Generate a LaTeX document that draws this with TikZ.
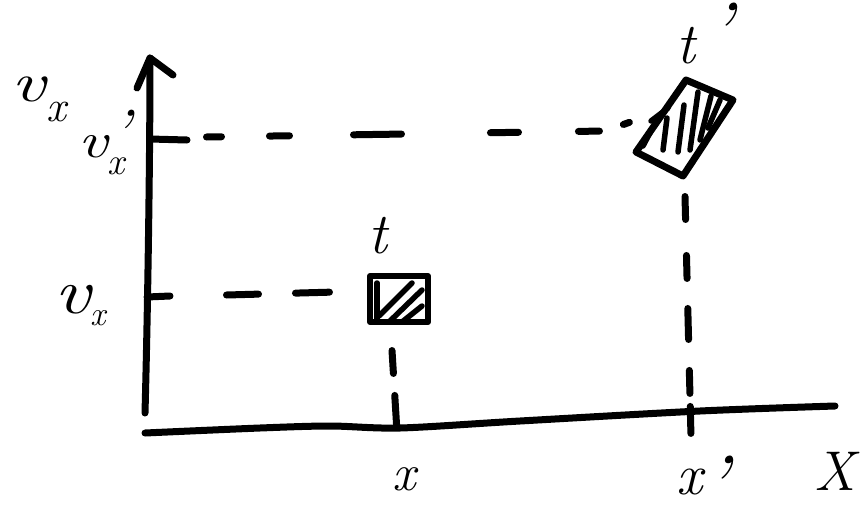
\documentclass[tikz,border=0pt]{standalone}
\usepackage{fontspec}
\newcommand{\pr}[2]{\raisebox{#2}{\fontsize{#1}{#1}\selectfont\itshape '}}
\newcommand{\wv}[2]{{\fontsize{#1}{#1}\selectfont\itshape\scalebox{#2}[1]{v}}}
\newcommand{\sx}[2]{\raisebox{-#2}{\fontsize{#1}{#1}\selectfont\itshape x}}
\begin{document}
\tikzset{
  ink/.style={line width=7pt, line cap=round, line join=round, draw=black},
  hatch/.style={line width=5.5pt, line cap=round, draw=black},
  lbl/.style={inner sep=0pt, outer sep=0pt, text=black, anchor=base west},
  boxstyle/.style={ink, line width=6pt, minimum width=58pt, minimum height=46pt, inner sep=0pt},
}
\begin{tikzpicture}[x=1pt,y=-1pt]
\useasboundingbox (0,0) rectangle (864,506);

% ---------- axes ----------
\coordinate (ybot) at (145,413);
\coordinate (ytop) at (150,58);
\coordinate (yarrL) at (137,88);
\coordinate (yarrR) at (173,75);
\draw[ink] (ybot) .. controls (148,300) and (150,150) .. (ytop);
\draw[ink] (yarrL) -- (ytop) -- (yarrR);
\draw[ink] plot[smooth] coordinates {(145,433) (260,428) (330,426) (400,428) (520,421) (700,411) (835,406)};

% ---------- ticks on the v axis ----------
\coordinate (tkA) at (150,139);
\coordinate (tkAe) at (187,140);
\coordinate (tkB) at (147,297);
\coordinate (tkBe) at (170,296);
\draw[ink] (tkA) -- (tkAe);
\draw[ink] (tkB) -- (tkBe);

% ---------- event t ----------
\node[boxstyle] (tb) at (399,299) {};
\draw[hatch] (377,283) -- (377,319);
\draw[hatch] (379,316) -- (412,283);
\draw[hatch] (390,321) -- (422,290);
\draw[hatch] (402,322) -- (422,306);

% ---------- event t' ----------
\coordinate (pA) at (686,80);
\coordinate (pB) at (733,100);
\coordinate (pC) at (683,176);
\coordinate (pD) at (636,152);
\draw[ink] (pA) -- (pB) -- (pC) -- (pD) -- cycle;
\draw[hatch] (668,108) -- (651,121);
\draw[hatch] (653,127) -- (643,146);
\draw[hatch] (667,118) -- (663,150);
\draw[hatch] (678,152) -- (684,105);
\draw[hatch] (690,150) -- (698,92);
\draw[hatch] (700,140) -- (711,96);
\draw[hatch] (708,128) -- (720,100);

% ---------- dashed projections ----------
\coordinate (dAs) at (206.5,137);
\coordinate (dAm) at (605,131);
\coordinate (dAe) at (636,120);
\draw[ink, dash pattern=on 15pt off 48pt on 20pt off 64pt on 48pt off 89pt on 28pt off 60pt on 21pt off 25pt on 6.4pt off 200pt]
  (dAs) -- (dAm) -- (dAe);

\coordinate (dBs) at (226.5,295);
\coordinate (dBe) at (336,292);
\draw[ink, dash pattern=on 32pt off 37pt on 34pt off 200pt] (dBs) -- (dBe);

\coordinate (dCs) at (392,350.5);
\coordinate (dCe) at (397,432);
\draw[ink, dash pattern=on 23pt off 22pt on 31pt off 200pt] (dCs) -- (dCe);

\coordinate (dDs) at (685,196.5);
\coordinate (dDe) at (691,437);
\draw[ink, dash pattern=on 23pt off 36pt on 23pt off 30pt on 31pt off 31pt on 23pt off 13pt on 27pt off 200pt] (dDs) -- (dDe);

% ---------- labels ----------
\node[lbl] (lvx) at (12,101) {\wv{56}{1.35}\sx{44}{20pt}};
\node[lbl] (lvxp) at (78,157) {\fontsize{50}{50}\selectfont\wv{50}{1.3}\sx{38}{17pt}\hspace{-13pt}\pr{64}{3pt}};
\node[lbl] (lvx2) at (54,313) {\wv{64}{1.25}\sx{34}{12pt}};
\node[lbl] (lt) at (368,253) {\fontsize{58}{58}\selectfont\itshape t};
\node[lbl] (ltp) at (676,63) {\fontsize{58}{58}\selectfont\itshape t\hspace{14pt}\pr{80}{5pt}};
\node[lbl] (lx) at (392,490) {\fontsize{52}{52}\selectfont\itshape x};
\node[lbl] (lxp) at (676,494) {\fontsize{58}{58}\selectfont\itshape x\hspace{2pt}\pr{80}{-17pt}};
\node[lbl] (lX) at (814,490) {\fontsize{56}{56}\selectfont\itshape X};
\end{tikzpicture}
\end{document}
